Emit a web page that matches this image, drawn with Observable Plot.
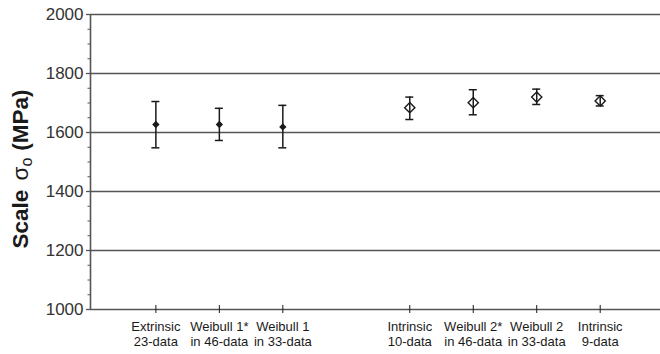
<!DOCTYPE html>
<html><head><meta charset="utf-8">
<script src="https://cdn.jsdelivr.net/npm/d3@7"></script>
<script src="https://cdn.jsdelivr.net/npm/@observablehq/plot@0.6"></script>
<style>
body{margin:0;background:#fff}
svg{display:block}
</style>
</head><body><div id="chart"></div>
<script>
const categories = ["Extrinsic\n23-data", "Weibull 1*\nin 46-data", "Weibull 1\nin 33-data", "Intrinsic\n10-data", "Weibull 2*\nin 46-data", "Weibull 2\nin 33-data", "Intrinsic\n9-data"];
const positions = [1, 2, 3, 5, 6, 7, 8];
const scaleValues = [1627, 1627, 1619, 1684, 1701, 1720, 1707];
const lowerValues = [1548, 1573, 1548, 1644, 1660, 1695, 1690];
const upperValues = [1705, 1682, 1692, 1720, 1745, 1747, 1725];
const filledMarker = [true, true, true, false, false, false, false];
const yTicks = [1000, 1200, 1400, 1600, 1800, 2000];
const yMinorTicks = d3.range(1000, 2001, 50);
const xDomain = [-0.03, 8.95];
const yDomain = [1000, 2000];

const data = positions.map((p, i) => ({
  pos: p, label: categories[i], v: scaleValues[i], lo: lowerValues[i], hi: upperValues[i], filled: filledMarker[i]
}));

const font = "Liberation Sans, Arial, Helvetica, sans-serif";
const ink = "#1a1a1a";
const gridColor = "#555";

const chart = Plot.plot({
  width: 660,
  height: 354,
  marginLeft: 90,
  marginRight: 0,
  marginTop: 14,
  marginBottom: 45,
  style: {fontFamily: font, background: "#fff", color: ink},
  x: {domain: xDomain},
  y: {domain: yDomain},
  marks: [
    Plot.ruleY(yTicks, {stroke: gridColor, strokeWidth: 1.7}),
    Plot.ruleX([xDomain[0]], {stroke: gridColor, strokeWidth: 1.6}),
    Plot.axisY({ticks: yMinorTicks, tickSize: 2.5, text: null, stroke: gridColor, strokeWidth: 1}),
    Plot.axisY({ticks: yTicks, tickSize: 4, tickPadding: 3, fontSize: 17, fill: "#333", stroke: gridColor, strokeWidth: 1.3, label: null, tickFormat: d => String(d)}),
    Plot.ruleX(positions, {x: d => d, y1: () => 1000, y2: () => 1000, insetTop: -4, insetBottom: -4, stroke: ink, strokeWidth: 1}),
    Plot.axisX({ticks: positions, tickSize: 0, tickPadding: 11, fontSize: 13, lineHeight: 1.15, fill: ink, label: null,
      tickFormat: d => categories[positions.indexOf(d)]}),
    Plot.ruleX(data, {x: "pos", y1: "lo", y2: "hi", stroke: ink, strokeWidth: 1.5}),
    Plot.ruleY(data, {x1: "pos", x2: "pos", y: "lo", insetLeft: -4, insetRight: -4, stroke: ink, strokeWidth: 1.5}),
    Plot.ruleY(data, {x1: "pos", x2: "pos", y: "hi", insetLeft: -4, insetRight: -4, stroke: ink, strokeWidth: 1.5}),
    Plot.dot(data.filter(d => d.filled), {x: "pos", y: "v", symbol: "diamond2", r: 3.3, fill: ink, stroke: "none"}),
    Plot.dot(data.filter(d => !d.filled), {x: "pos", y: "v", symbol: "diamond2", r: 4.6, fill: "none", stroke: ink, strokeWidth: 1.4})
  ]
});

const svg = d3.select(chart);
const label = svg.append("text")
  .attr("transform", "translate(28,169) rotate(-90)")
  .attr("text-anchor", "middle")
  .attr("font-family", font)
  .attr("font-size", 22.5)
  .attr("font-weight", "bold")
  .attr("fill", ink);
label.append("tspan").text("Scale ");
label.append("tspan").attr("font-weight", "normal").attr("dx", 3).text("σ");
label.append("tspan").attr("font-weight", "normal").attr("font-size", 16).attr("dy", 4).text("o");
label.append("tspan").attr("dy", -4).attr("dx", 7).text("(MPa)");

document.getElementById("chart").appendChild(chart);
</script>
</body></html>
